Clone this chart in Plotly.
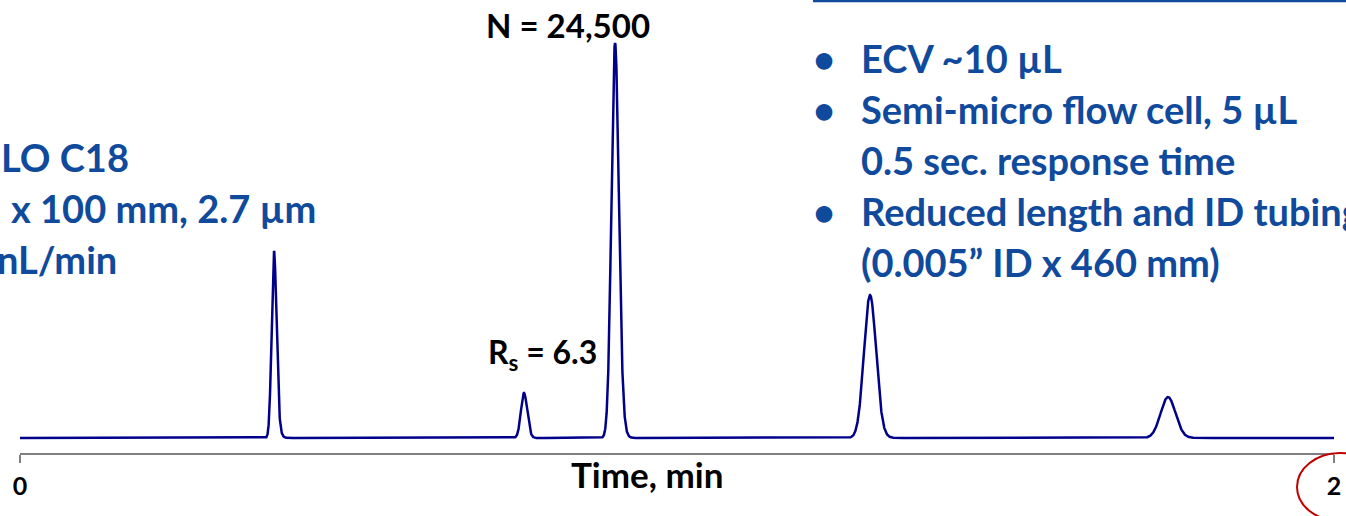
import numpy as np
import plotly.graph_objects as go

# Peak table of the chromatogram (time in min, height in mAU, widths in min)
peak_times = [0.3866, 0.7671, 0.9056, 1.2938, 1.7473]
peak_heights = [187, 45, 395, 143, 41]
peak_sigmas = [0.0033, 0.0044, 0.0052, 0.0088, 0.0110]
peak_tails = [0.0022, 0.0020, 0.0026, 0.0030, 0.0030]

x_ticks = [0, 2]
x_tick_labels = ["0", "2"]

column_lines = ["LO C18", "x 100 mm, 2.7 \u00b5m", "nL/min"]
system_lines = ["ECV ~10 \u00b5L", "Semi-micro flow cell, 5 \u00b5L", "0.5 sec. response time",
                "Reduced length and ID tubing", "(0.005\u201d ID x 460 mm)"]
bullet_rows = [0, 1, 3]

plate_label = "N = 24,500"
resolution_label = "R<sub>s</sub> = 6.3"
x_title = "Time, min"

W, H = 1346, 516
BLUE = "#0F4A9C"
TRACE = "#00008B"
FONT = "Lato"

# Build the detector trace: each peak is a Gaussian convolved with an exponential tail
t = np.linspace(0, 2, 12001)
dt = t[1] - t[0]
signal = np.zeros_like(t)
for tr, h, s, tau in zip(peak_times, peak_heights, peak_sigmas, peak_tails):
    g = np.exp(-0.5 * ((t - tr) / s) ** 2)
    k = np.exp(-np.arange(0, 8 * tau, dt) / tau)
    p = np.convolve(g, k)[: len(t)]
    shift = int(np.argmax(p) - np.argmax(g))
    p = np.roll(p, -shift)
    signal += h * p / p.max()

fig = go.Figure()
fig.add_trace(go.Scatter(x=t, y=signal, mode="lines",
                         line=dict(color=TRACE, width=2.5), hoverinfo="skip"))


def px(x):
    return x / W


def py(y):
    return 1 - y / H


annotations = []


def label(text, x, y, size, color, xanchor="left", yanchor="middle"):
    annotations.append(dict(text=text, x=px(x), y=py(y), xref="paper", yref="paper",
                            xanchor=xanchor, yanchor=yanchor, showarrow=False,
                            font=dict(family=FONT, size=size, color=color, weight="bold")))


# Column conditions on the left
for i, (txt, x0) in enumerate(zip(column_lines, [-1, 9, -5])):
    label(txt, x0, 156.5 + 51 * i, 38, BLUE)

# System configuration list on the right
for i, txt in enumerate(system_lines):
    label(txt, 859, 58.5 + 50.8 * i, 38, BLUE)
for i in bullet_rows:
    label("\u2022", 823.5, 58.5 + 50.8 * i, 38, BLUE, xanchor="center")

# Peak annotations
label(plate_label, 567.5, 25, 33, "black", xanchor="center")
label(resolution_label, 486, 354, 32, "black")
label(x_title, 646.5, 474, 35, "black", xanchor="center")

fig.update_layout(
    width=W, height=H,
    margin=dict(l=0, r=0, t=0, b=0, autoexpand=False),
    paper_bgcolor="white", plot_bgcolor="white",
    showlegend=False,
    xaxis=dict(domain=[20 / W, 1334 / W], range=[0, 2], showgrid=False, zeroline=False,
               automargin=False,
               showline=True, linecolor="#808080", linewidth=1.5,
               ticks="outside", ticklen=8, tickwidth=1.5, tickcolor="#808080",
               tickvals=x_ticks, ticktext=x_tick_labels, ticklabelstandoff=2,
               tickfont=dict(family=FONT, size=25, color="black", weight="bold")),
    yaxis=dict(domain=[(H - 453) / H, 1], range=[-15, 438], visible=False, automargin=False),
    annotations=annotations,
    shapes=[
        dict(type="line", xref="paper", yref="paper", x0=px(813), x1=px(W + 5),
             y0=py(1), y1=py(1), line=dict(color=BLUE, width=2.5)),
        dict(type="circle", xref="paper", yref="paper", x0=px(1297), x1=px(1383),
             y0=py(453), y1=py(521), line=dict(color="#C00000", width=2)),
    ],
)

fig.write_html("out.html")
